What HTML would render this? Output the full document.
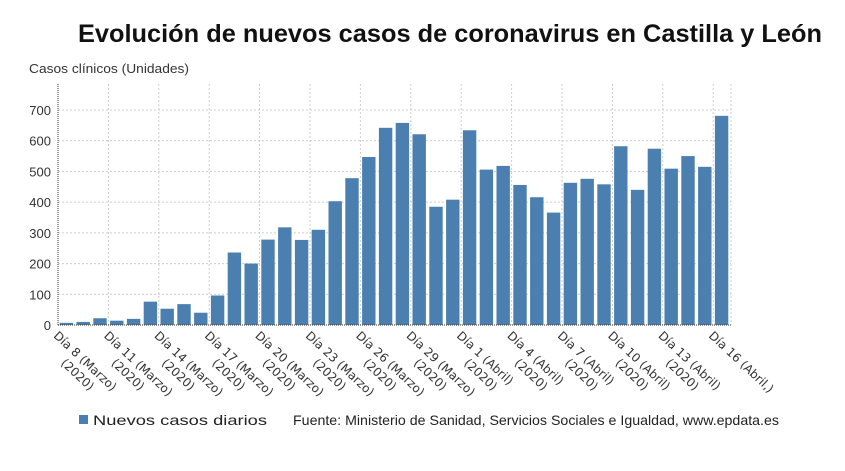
<!DOCTYPE html>
<html><head><meta charset="utf-8"><style>
body{margin:0;background:#fff;}
svg{display:block;font-family:"Liberation Sans","DejaVu Sans",sans-serif;}
</style></head><body>
<svg width="845" height="471" viewBox="0 0 845 471" xmlns="http://www.w3.org/2000/svg">
<text x="78" y="42" font-size="25" font-weight="bold" fill="#111" textLength="744" lengthAdjust="spacingAndGlyphs">Evolución de nuevos casos de coronavirus en Castilla y León</text>
<text x="29" y="73" font-size="13" fill="#333" textLength="160" lengthAdjust="spacingAndGlyphs">Casos clínicos (Unidades)</text>
<g id="grid" stroke="#ccc" stroke-dasharray="2,2" stroke-width="1"></g>
<g id="bars" fill="#4a7fb0"></g>
<g id="ylab" font-size="13" fill="#333" text-anchor="end"></g>
<g id="xlab" font-size="12" fill="#333" style="font-family:'DejaVu Sans',sans-serif"></g>
<line x1="58" y1="84" x2="58" y2="325" stroke="#333" stroke-dasharray="1,1"/>
<line x1="58" y1="325" x2="731" y2="325" stroke="#333" stroke-dasharray="1,1"/>
<rect x="79" y="415" width="9" height="9" fill="#4a7fb0"/>
<text x="93" y="425" font-size="14" fill="#222" textLength="174" lengthAdjust="spacingAndGlyphs">Nuevos casos diarios</text>
<text x="293" y="425" font-size="14" fill="#222" textLength="486" lengthAdjust="spacingAndGlyphs">Fuente: Ministerio de Sanidad, Servicios Sociales e Igualdad, www.epdata.es</text>
<script>
var v=[7,10,22,14,20,76,53,68,40,96,236,200,278,318,277,310,403,478,547,642,658,621,385,408,634,506,518,456,416,366,463,476,458,582,440,574,509,550,515,681];
var ns="http://www.w3.org/2000/svg",x0=58,bw=16.8,y0=325,k=215/700;
function el(t,a,p,txt){var e=document.createElementNS(ns,t);for(var i in a)e.setAttribute(i,a[i]);if(txt!=null)e.textContent=txt;document.getElementById(p).appendChild(e);return e;}
for(var i=0;i<=7;i++){var y=y0-i*100*k;if(i>0)el("line",{x1:58,x2:731,y1:y,y2:y},"grid");el("text",{x:51,y:y+5},"ylab",i*100);}
for(var j=3;j<=40;j+=3){var x=x0+j*bw;el("line",{x1:x,x2:x,y1:84,y2:325},"grid");}
el("line",{x1:731,x2:731,y1:84,y2:325},"grid");
v.forEach(function(d,i){var h=d*k;el("rect",{x:x0+i*bw+1.7,y:y0-h,width:13.4,height:h},"bars");});
var days=[["8","Marzo"],["11","Marzo"],["14","Marzo"],["17","Marzo"],["20","Marzo"],["23","Marzo"],["26","Marzo"],["29","Marzo"],["1","Abril"],["4","Abril"],["7","Abril"],["10","Abril"],["13","Abril"],["16","Abril,"]];
days.forEach(function(d,i){var x=x0+i*3*bw+1,y=330;
 var g=el("g",{transform:"translate("+x+","+y+") rotate(43)"},"xlab");
 var t1=document.createElementNS(ns,"text");t1.setAttribute("x",0);t1.setAttribute("y",9);t1.textContent="Día "+d[0]+" ("+d[1]+")";g.appendChild(t1);
 if(i<13){var t2=document.createElementNS(ns,"text");t2.setAttribute("x",24);t2.setAttribute("y",24);t2.textContent="(2020)";g.appendChild(t2);}
});
</script>
</svg>
</body></html>
